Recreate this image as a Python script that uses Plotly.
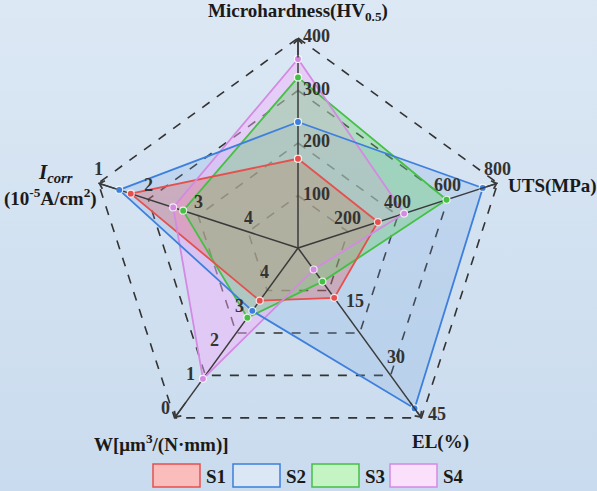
import numpy as np
import plotly.graph_objects as go

# Achsen im Uhrzeigersinn ab oben
AXES = ["Microhardness", "UTS", "EL", "W", "Icorr"]
BEARING = [0, 72, 144, 216, 288]   # Grad, im Uhrzeigersinn von oben

# Werte je Probe (Microhardness HV0.5, UTS MPa, EL %, W, Icorr 1e-5 A/cm2)
S1 = [170, 320, 13.2, 3.45, 1.65]
S2 = [240, 740, 42.5, 3.15, 1.42]
S3 = [325, 595, 8.9, 2.95, 2.7]
S4 = [360, 425, 5.7, 1.15, 2.5]
SERIES = {"S1": S1, "S2": S2, "S3": S3, "S4": S4}

TICKS_MH = [100, 200, 300, 400]
TICKS_UTS = [200, 400, 600, 800]
TICKS_EL = [15, 30, 45]
TICKS_W = [0, 1, 2, 3, 4]
TICKS_IC = [1, 2, 3, 4]

LINE_COL = {"S1": "#e5504e", "S2": "#3d7fdc", "S3": "#45c045", "S4": "#d38ae2"}
FILL_COL = {"S1": "rgba(225,90,90,0.32)", "S2": "rgba(120,165,225,0.22)",
            "S3": "rgba(95,205,95,0.33)", "S4": "rgba(245,175,250,0.45)"}
LEG_FILL = {"S1": "#fbbcbc", "S2": "#dbe7f4", "S3": "#c4f3c4", "S4": "#fbe0fb"}

FONT = "Liberation Serif, Times New Roman, serif"
DARK = "#333333"
BG_TOP, BG_BOTTOM = "#dce8f4", "#c9dbee"


def norm(axis, v):
    """Wert -> Anteil am Radius (0 = Mitte, 1 = aussen)."""
    if axis == "Microhardness":
        return v / 400
    if axis == "UTS":
        return v / 800
    if axis == "EL":
        return v / 45
    if axis == "W":
        return 1 - v / 5
    return (5 - v) / 4


def xy(i, f):
    b = np.radians(BEARING[i])
    return f * np.sin(b), f * np.cos(b)


R = 210.0
XR = [-298 / R, (597 - 298) / R]
YR = [-(491 - 248) / R, 248 / R]

fig = go.Figure()

# Hintergrund mit leichtem Verlauf
fig.add_trace(go.Scatter(x=[XR[0], XR[1], XR[1], XR[0], XR[0]],
                         y=[YR[0], YR[0], YR[1], YR[1], YR[0]], mode="lines",
                         line=dict(width=0), fill="toself",
                         fillgradient=dict(type="vertical",
                                           colorscale=[[0, BG_BOTTOM], [1, BG_TOP]]),
                         hoverinfo="skip", showlegend=False))

# gestrichelte Fuenfecke
for f in [0.25, 0.5, 0.75, 1.0]:
    pts = [xy(i, f) for i in range(5)] + [xy(0, f)]
    fig.add_trace(go.Scatter(x=[p[0] for p in pts], y=[p[1] for p in pts], mode="lines",
                             line=dict(color=DARK, width=1.6, dash="dash"),
                             hoverinfo="skip", showlegend=False))

# Flaechen
fill_order = ["S2", "S4", "S1", "S3"]
for name in fill_order:
    vals = SERIES[name]
    pts = [xy(i, norm(AXES[i], vals[i])) for i in range(5)]
    pts.append(pts[0])
    fig.add_trace(go.Scatter(x=[p[0] for p in pts], y=[p[1] for p in pts], mode="lines",
                             fill="toself", fillcolor=FILL_COL[name], line=dict(width=0),
                             hoverinfo="skip", showlegend=False))

# Achsen-Speichen
for i in range(5):
    x1, y1 = xy(i, 1.0)
    fig.add_trace(go.Scatter(x=[0, x1], y=[0, y1], mode="lines",
                             line=dict(color="#3a3a3a", width=1.5),
                             hoverinfo="skip", showlegend=False))
    fig.add_annotation(x=x1, y=y1, ax=x1 * 0.9, ay=y1 * 0.9, xref="x", yref="y",
                       axref="x", ayref="y", text="", showarrow=True,
                       arrowhead=4, arrowsize=1.1, arrowwidth=1.5, arrowcolor="#3a3a3a")

# Linien + Punkte
for name in ["S3", "S1", "S4", "S2"]:
    vals = SERIES[name]
    pts = [xy(i, norm(AXES[i], vals[i])) for i in range(5)]
    pts.append(pts[0])
    fig.add_trace(go.Scatter(x=[p[0] for p in pts], y=[p[1] for p in pts], mode="lines+markers",
                             line=dict(color=LINE_COL[name], width=1.8),
                             marker=dict(size=7, color=LINE_COL[name],
                                         line=dict(color="rgba(255,255,255,0.8)", width=1.2)),
                             hoverinfo="skip", showlegend=False))

# Tick-Beschriftungen
tick_sets = [
    (0, TICKS_MH, dict(xanchor="left", yanchor="middle", xshift=3, yshift=2)),
    (1, TICKS_UTS, dict(xanchor="center", yanchor="middle", yshift=14)),
    (2, TICKS_EL, dict(xanchor="left", yanchor="middle", xshift=5, yshift=4)),
    (3, TICKS_W, dict(xanchor="center", yanchor="middle", xshift=-9, yshift=10)),
    (4, TICKS_IC, dict(xanchor="center", yanchor="middle", yshift=14)),
]
for i, ticks, kw in tick_sets:
    for t in ticks:
        x, y = xy(i, norm(AXES[i], t))
        fig.add_annotation(x=x, y=y, xref="x", yref="y", text=f"<b>{t}</b>",
                           showarrow=False, font=dict(family=FONT, size=18, color=DARK), **kw)

# Achsentitel (Pixelposition -> paper)
title_font = dict(family=FONT, size=19, color="#1a1a1a")


def label(px, py, text, font=title_font, xanchor="center"):
    fig.add_annotation(x=px / 597, y=1 - py / 491, xref="paper", yref="paper",
                       xanchor=xanchor, yanchor="middle", text=text,
                       showarrow=False, font=font)


label(298, 12, "<b>Microhardness(HV<sub>0.5</sub>)</b>")
label(506, 186, "<b>UTS(MPa)</b>", xanchor="left")
label(440, 442, "<b>EL(%)</b>")
label(161, 443, "<b>W[μm<sup>3</sup>/(N·mm)]</b>")
label(55, 173, "<b><i>I<sub>corr</sub></i></b>", font=dict(family=FONT, size=21, color="#1a1a1a"))
label(50, 198, "<b>(10<sup>-5</sup>A/cm<sup>2</sup>)</b>")

# Legende von Hand
box_x = [153, 233, 312, 390]
for k, name in enumerate(["S1", "S2", "S3", "S4"]):
    x0 = box_x[k]
    fig.add_shape(type="rect", xref="paper", yref="paper",
                  x0=x0 / 597, x1=(x0 + 47) / 597, y0=1 - 487 / 491, y1=1 - 464 / 491,
                  fillcolor=LEG_FILL[name], line=dict(color=LINE_COL[name], width=1.5))
    label(x0 + 51, 476, f"<b>{name}</b>", font=dict(family=FONT, size=19, color="#1a1a1a"),
          xanchor="left")

fig.update_layout(
    width=597, height=491,
    margin=dict(l=0, r=0, t=0, b=0),
    paper_bgcolor="#d6e4f1", plot_bgcolor="rgba(0,0,0,0)",
    xaxis=dict(range=XR, visible=False, fixedrange=True),
    yaxis=dict(range=YR, visible=False, fixedrange=True),
    showlegend=False,
)

fig.write_html("out.html", config={"displayModeBar": False},
               post_script="document.body.style.margin='0';"
                           "document.body.style.background='#d6e4f1';")
